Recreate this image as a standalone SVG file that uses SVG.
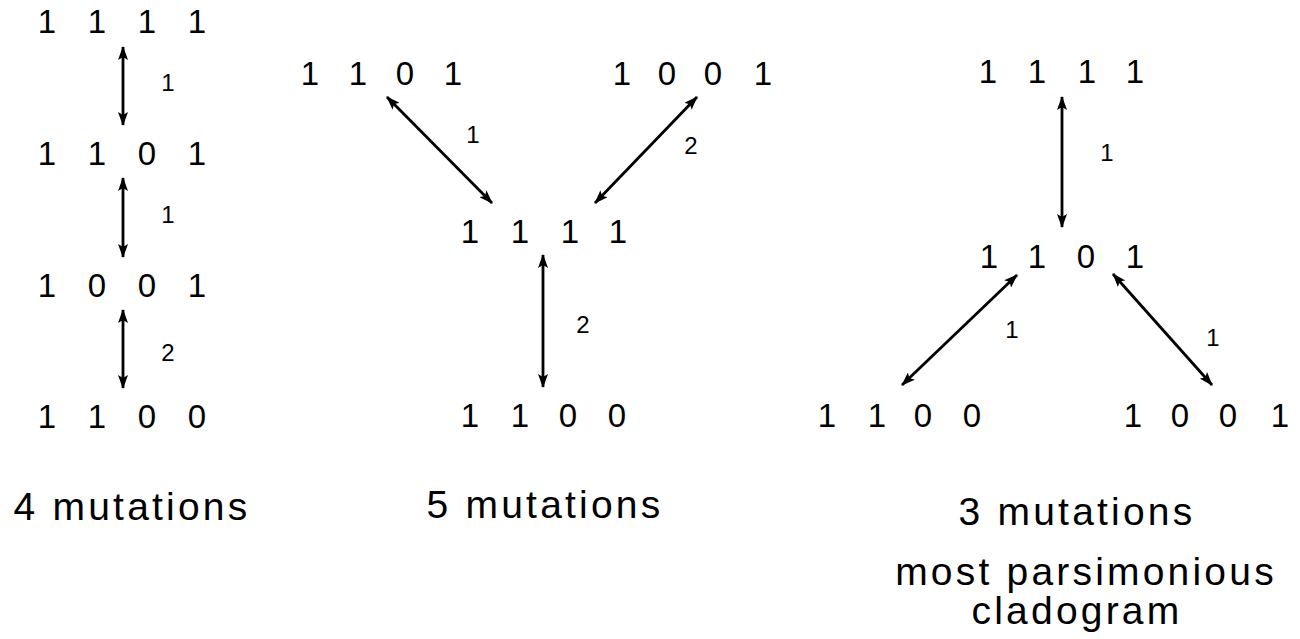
<svg xmlns="http://www.w3.org/2000/svg" width="1300" height="639" viewBox="0 0 1300 639">
<defs>
<style>
.d{font-family:"Liberation Sans",Arial,sans-serif;font-size:33px;fill:#000;text-anchor:middle}
.l{font-family:"Liberation Sans",Arial,sans-serif;font-size:24px;fill:#000;text-anchor:middle}
.c{font-family:"Liberation Sans",Arial,sans-serif;font-size:39px;fill:#000;text-anchor:middle;letter-spacing:3.2px}
.e{stroke:#000;stroke-width:2.8;fill:none;marker-start:url(#ah);marker-end:url(#ah)}
</style>
<marker id="ah" viewBox="0 0 14 10" refX="13" refY="5" markerWidth="14" markerHeight="10" markerUnits="userSpaceOnUse" orient="auto-start-reverse">
<path d="M0,0 L14,5 L0,10 L3,5 z" fill="#000"/>
</marker>
</defs>
<rect width="1300" height="639" fill="#fff"/>

<g id="connectors">
<line class="e" x1="123" y1="47" x2="123" y2="125"/>
<line class="e" x1="123" y1="178" x2="123" y2="257"/>
<line class="e" x1="123" y1="310" x2="123" y2="388"/>
<text class="l" x="168" y="91">1</text>
<text class="l" x="168" y="223">1</text>
<text class="l" x="168" y="361">2</text>

<line class="e" x1="387" y1="97" x2="492" y2="203"/>
<line class="e" x1="697" y1="97" x2="595" y2="203"/>
<line class="e" x1="543" y1="255" x2="543" y2="387"/>
<text class="l" x="473" y="143">1</text>
<text class="l" x="691" y="154">2</text>
<text class="l" x="583" y="333">2</text>

<line class="e" x1="1062" y1="97" x2="1062" y2="227"/>
<line class="e" x1="1017" y1="275" x2="902" y2="385"/>
<line class="e" x1="1113" y1="274" x2="1212" y2="385"/>
<text class="l" x="1107" y="161">1</text>
<text class="l" x="1012" y="338">1</text>
<text class="l" x="1213" y="346">1</text>
</g>

<g id="left-1111"><text class="d" x="47 97 147 197" y="33">1111</text></g>
<g id="left-1101"><text class="d" x="47 97 147 197" y="165">1101</text></g>
<g id="left-1001"><text class="d" x="47 97 147 197" y="297">1001</text></g>
<g id="left-1100"><text class="d" x="47 97 147 197" y="428">1100</text></g>

<g id="mid-1101"><text class="d" x="310 358 405 453" y="85">1101</text></g>
<g id="mid-1001"><text class="d" x="622 667 713 763" y="85">1001</text></g>
<g id="mid-1111"><text class="d" x="470 520 570 618" y="243">1111</text></g>
<g id="mid-1100"><text class="d" x="470 520 568 617" y="427">1100</text></g>

<g id="right-1111"><text class="d" x="988 1037 1087 1135" y="83">1111</text></g>
<g id="right-1101"><text class="d" x="989 1037 1086 1135" y="268">1101</text></g>
<g id="right-1100"><text class="d" x="827 877 923 972" y="427">1100</text></g>
<g id="right-1001"><text class="d" x="1133 1180 1228 1280" y="427">1001</text></g>

<g id="captions">
<text class="c" x="132" y="520">4 mutations</text>
<text class="c" x="545" y="518">5 mutations</text>
<text class="c" x="1077" y="525">3 mutations</text>
<text class="c" x="1086" y="585">most parsimonious</text>
<text class="c" x="1077" y="624">cladogram</text>
</g>
</svg>
